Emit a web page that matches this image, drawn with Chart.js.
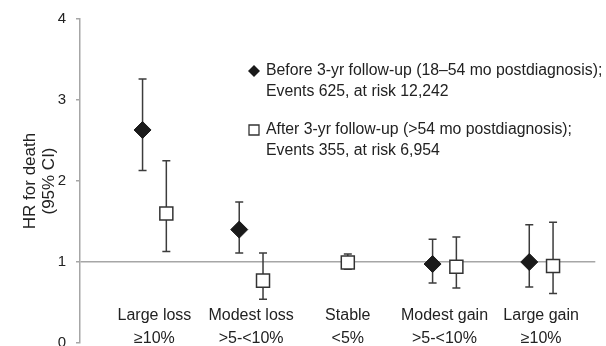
<!DOCTYPE html>
<html>
<head>
<meta charset="utf-8">
<script src="https://cdn.jsdelivr.net/npm/chart.js@4.4.1/dist/chart.umd.min.js"></script>
<style>
html, body { margin: 0; padding: 0; background: #fff; overflow: hidden; }
#wrap { width: 606px; height: 346px; overflow: hidden; }
</style>
</head>
<body>
<div id="wrap"><canvas id="myChart" width="606" height="362"></canvas></div>
<script>
// categories (two-line tick labels)
var categories = [
    ['Large loss', '≥10%'],
    ['Modest loss', '>5-<10%'],
    ['Stable', '<5%'],
    ['Modest gain', '>5-<10%'],
    ['Large gain', '≥10%']
];

// before 3-yr follow-up
var beforeHR   = [2.63, 1.40, null, 0.975, 1.00];
var beforeLow  = [2.13, 1.11, null, 0.74, 0.69];
var beforeHigh = [3.26, 1.74, null, 1.28, 1.46];

// after 3-yr follow-up
var afterHR   = [1.60, 0.77, 0.995, 0.94, 0.95];
var afterLow  = [1.13, 0.54, 0.91, 0.68, 0.61];
var afterHigh = [2.25, 1.11, 1.10, 1.31, 1.49];

var yTicks = [0, 1, 2, 3, 4];
var yTitle = ['HR for death', '(95% CI)'];
var legendBefore = ['Before 3-yr follow-up (18–54 mo postdiagnosis);', 'Events 625, at risk 12,242'];
var legendAfter  = ['After 3-yr follow-up (>54 mo postdiagnosis);', 'Events 355, at risk 6,954'];

var FONT = "'Liberation Sans', Arial, sans-serif";
var SHIFT = 0.123; // side offset of the two series inside a category

function buildPoints(hr, low, high, other, side) {
    var pts = [];
    for (var i = 0; i < hr.length; i++) {
        if (hr[i] == null) continue;
        var off = other[i] == null ? 0 : side * SHIFT;
        pts.push({ x: i + 1 + off, y: hr[i], lo: low[i], hi: high[i] });
    }
    return pts;
}

// vertical CI bars, drawn under the markers
var errorBars = {
    id: 'errorBars',
    beforeDatasetsDraw: function(chart) {
        var ctx = chart.ctx;
        var xs = chart.scales.x, ys = chart.scales.y;
        ctx.save();
        ctx.strokeStyle = '#3c3c3c';
        ctx.lineWidth = 1.5;
        chart.data.datasets.forEach(function(ds) {
            ds.data.forEach(function(p) {
                var px = xs.getPixelForValue(p.x);
                var top = ys.getPixelForValue(p.hi);
                var bot = ys.getPixelForValue(p.lo);
                ctx.beginPath();
                ctx.moveTo(px, top); ctx.lineTo(px, bot);
                ctx.moveTo(px - 4, top); ctx.lineTo(px + 4, top);
                ctx.moveTo(px - 4, bot); ctx.lineTo(px + 4, bot);
                ctx.stroke();
            });
        });
        ctx.restore();
    }
};

// legend block inside the plot
var insideLegend = {
    id: 'insideLegend',
    afterDraw: function(chart) {
        var ctx = chart.ctx;
        var mx = 254, tx = 266, lh = 21;
        var entries = [
            { lines: legendBefore, y: 71, style: 'diamond' },
            { lines: legendAfter, y: 130, style: 'square' }
        ];
        ctx.save();
        ctx.font = '15.8px ' + FONT;
        ctx.textBaseline = 'middle';
        ctx.textAlign = 'left';
        entries.forEach(function(e) {
            ctx.beginPath();
            if (e.style === 'diamond') {
                ctx.moveTo(mx - 6, e.y); ctx.lineTo(mx, e.y - 6);
                ctx.lineTo(mx + 6, e.y); ctx.lineTo(mx, e.y + 6);
                ctx.closePath();
                ctx.fillStyle = '#1a1a1a';
                ctx.fill();
            } else {
                ctx.rect(mx - 5, e.y - 5, 10, 10);
                ctx.fillStyle = '#fff';
                ctx.fill();
                ctx.strokeStyle = '#333';
                ctx.lineWidth = 1.3;
                ctx.stroke();
            }
            ctx.fillStyle = '#222';
            e.lines.forEach(function(t, k) {
                ctx.fillText(t, tx, e.y + k * lh);
            });
        });
        ctx.restore();
    }
};

var ctx = document.getElementById('myChart').getContext('2d');
var myChart = new Chart(ctx, {
    type: 'scatter',
    data: {
        datasets: [{
            label: legendBefore[0],
            data: buildPoints(beforeHR, beforeLow, beforeHigh, afterHR, -1),
            pointStyle: 'rectRot',
            pointRadius: 8.5,
            pointBackgroundColor: '#1a1a1a',
            pointBorderColor: '#1a1a1a',
            pointBorderWidth: 1
        }, {
            label: legendAfter[0],
            data: buildPoints(afterHR, afterLow, afterHigh, beforeHR, 1),
            pointStyle: 'rect',
            pointRadius: 9.2,
            pointBackgroundColor: '#ffffff',
            pointBorderColor: '#333333',
            pointBorderWidth: 1.5
        }]
    },
    options: {
        responsive: false,
        animation: false,
        layout: { padding: { top: 18, bottom: 17, right: 8, left: 0 } },
        plugins: { legend: { display: false }, tooltip: { enabled: false } },
        scales: {
            x: {
                type: 'linear',
                position: { y: 1 },
                min: 0.23,
                max: 5.56,
                grid: { display: false, drawTicks: false },
                border: { display: false },
                afterFit: function(scale) {
                    scale.height = 0;
                    scale.paddingLeft = 0;
                    scale.paddingRight = 0;
                },
                afterBuildTicks: function(scale) {
                    scale.ticks = categories.map(function(c, i) { return { value: i + 1 }; });
                },
                ticks: {
                    autoSkip: false,
                    maxRotation: 0,
                    padding: 42,
                    color: '#222',
                    font: { family: FONT, size: 16, lineHeight: 1.44 },
                    callback: function(v) { return categories[v - 1]; }
                }
            },
            y: {
                min: 0,
                max: 4,
                afterFit: function(scale) { scale.width = 80; },
                afterBuildTicks: function(scale) {
                    scale.ticks = yTicks.map(function(v) { return { value: v }; });
                },
                border: { display: true, color: '#a6a6a6', width: 1.5 },
                grid: {
                    drawOnChartArea: true,
                    tickLength: 4,
                    lineWidth: 1.5,
                    tickColor: '#a6a6a6',
                    color: function(c) { return c.tick && c.tick.value === 1 ? '#a6a6a6' : 'rgba(0,0,0,0)'; }
                },
                ticks: {
                    padding: 10,
                    color: '#222',
                    font: { family: FONT, size: 15 }
                },
                title: {
                    display: true,
                    text: yTitle,
                    color: '#222',
                    padding: { top: 21, bottom: 0 },
                    font: { family: FONT, size: 17, lineHeight: 1.1 }
                }
            }
        }
    },
    plugins: [errorBars, insideLegend]
});
</script>
</body>
</html>
